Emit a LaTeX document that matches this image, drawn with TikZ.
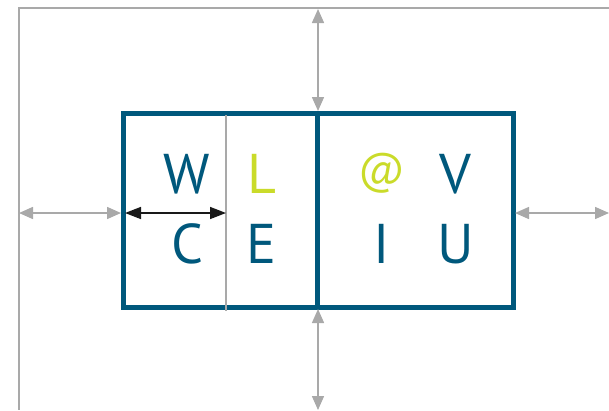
\documentclass[tikz,border=0pt]{standalone}
\usepackage{fontspec}
\setmainfont{PT Sans}
\usetikzlibrary{arrows.meta}
\definecolor{boxblue}{HTML}{00587C}
\definecolor{limegreen}{HTML}{CADB2A}
\definecolor{lgray}{HTML}{A9A9A9}
\begin{document}
\begin{tikzpicture}[x=1pt,y=-1pt,
  frameline/.style={draw=lgray,line width=2pt},
  boxline/.style={draw=boxblue,line width=5pt},
  thinline/.style={draw=lgray,line width=1.8pt},
  grayarrow/.style={draw=lgray,line width=1.5pt,{Triangle[length=14pt,width=12pt]}-{Triangle[length=14pt,width=12pt]}},
  blackarrow/.style={draw=black!90,line width=1.5pt,{Triangle[length=16pt,width=12pt]}-{Triangle[length=16pt,width=12pt]}},
  letter/.style={inner sep=0pt,anchor=base,font=\fontsize{56}{60}\selectfont},
  bl/.style={letter,text=boxblue},
  lm/.style={letter,text=limegreen}]
\useasboundingbox (0,0) rectangle (609,410);
% outer frame
\coordinate (fTR) at (609,8);
\coordinate (fTL) at (19,8);
\coordinate (fBL) at (19,410);
\draw[frameline] (fTR) -- (fTL) -- (fBL);
% box corners
\coordinate (bTL) at (123,113);
\coordinate (bBR) at (513,307);
\coordinate (mT) at (317.5,113);
\coordinate (mB) at (317.5,307);
\coordinate (gT) at (226,115);
\coordinate (gB) at (226,311);
\draw[boxline] (bTL) rectangle (bBR);
\draw[boxline] (mT) -- (mB);
\draw[thinline] (gT) -- (gB);
% letters
\node[bl] (W) at (187,193) {W};
\node[lm] (L) at (262,193) {L};
\node[bl] (C) at (187,263) {C};
\node[bl] (E) at (262,263) {E};
\node[lm,anchor=center,font=\fontsize{44}{48}\selectfont] (at) at (382,173) {@};
\node[bl] (V) at (455,193) {V};
\node[bl] (I) at (382,263) {I};
\node[bl] (U) at (456,263) {U};
% dimension arrows
\coordinate (aL1) at (19,213);
\coordinate (aL2) at (121,213);
\coordinate (aB1) at (125,213);
\coordinate (aB2) at (226,213);
\coordinate (aR1) at (515,213);
\coordinate (aR2) at (609,213);
\coordinate (aT1) at (318,9);
\coordinate (aT2) at (318,111);
\coordinate (aD1) at (318,309);
\coordinate (aD2) at (318,410);
\draw[grayarrow] (aL1) -- (aL2);
\draw[blackarrow] (aB1) -- (aB2);
\draw[grayarrow] (aR1) -- (aR2);
\draw[grayarrow] (aT1) -- (aT2);
\draw[grayarrow] (aD1) -- (aD2);
\end{tikzpicture}
\end{document}
